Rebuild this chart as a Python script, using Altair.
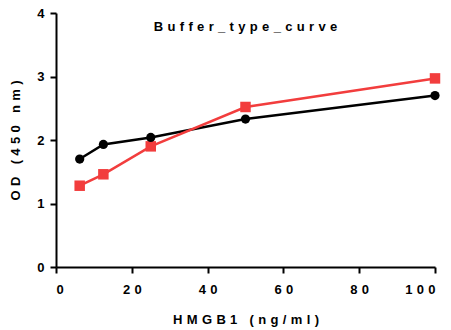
import altair as alt
import pandas as pd

# HMGB1 standard curves measured in two buffers
conc = [6.25, 12.5, 25, 50, 100]
od_black = [1.70, 1.93, 2.04, 2.33, 2.70]
od_red = [1.28, 1.46, 1.90, 2.52, 2.97]

x_ticks = [0, 20, 40, 60, 80, 100]
y_ticks = [0, 1, 2, 3, 4]

GAP = "\u2004"  # wide tracking between glyphs


def tracked(s):
    return GAP.join(list(s))


FONT = "Liberation Sans"
RED = "#F23D3D"
FS = 13

df = pd.DataFrame(
    {
        "conc": conc * 2,
        "od": od_black + od_red,
        "series": ["black"] * len(conc) + ["red"] * len(conc),
    }
)

x_enc = alt.X(
    "conc:Q",
    scale=alt.Scale(domain=[0, 100], nice=False),
    axis=alt.Axis(
        values=x_ticks,
        title=tracked("HMGB1 (ng/ml)"),
        labelExpr=f"join(split(datum.label, ''), '{GAP}')",
        grid=False,
        domainColor="black",
        domainWidth=2,
        tickColor="black",
        tickWidth=2,
        tickSize=6,
        labelFont=FONT,
        labelFontWeight="bold",
        labelFontSize=FS,
        labelColor="black",
        labelPadding=10,
        titleFont=FONT,
        titleFontWeight="bold",
        titleFontSize=FS,
        titleColor="black",
        titlePadding=17,
    ),
)
y_enc = alt.Y(
    "od:Q",
    scale=alt.Scale(domain=[0, 4], nice=False),
    axis=alt.Axis(
        values=y_ticks,
        title=tracked("OD (450 nm)"),
        grid=False,
        domainColor="black",
        domainWidth=2,
        tickColor="black",
        tickWidth=2,
        tickSize=6,
        labelFont=FONT,
        labelFontWeight="bold",
        labelFontSize=FS,
        labelColor="black",
        labelPadding=6,
        titleFont=FONT,
        titleFontWeight="bold",
        titleFontSize=FS,
        titleColor="black",
        titlePadding=14,
    ),
)

black = df[df.series == "black"]
red = df[df.series == "red"]

line_black = alt.Chart(black).mark_line(color="black", strokeWidth=2.5).encode(x=x_enc, y=y_enc)
line_red = alt.Chart(red).mark_line(color=RED, strokeWidth=2.5).encode(x=x_enc, y=y_enc)
pts_red = alt.Chart(red).mark_point(
    shape="square", filled=True, color=RED, opacity=1, size=110
).encode(x=x_enc, y=y_enc)
pts_black = alt.Chart(black).mark_point(
    shape="circle", filled=True, color="black", opacity=1, size=85
).encode(x=x_enc, y=y_enc)

chart = (
    alt.layer(line_black, line_red, pts_red, pts_black)
    .properties(
        width=379,
        height=254,
        title=alt.TitleParams(
            tracked("Buffer_type_curve"),
            font=FONT,
            fontWeight="bold",
            fontSize=FS,
            color="black",
            anchor="middle",
            offset=-27,
        ),
        autosize=alt.AutoSizeParams(type="none"),
        padding={"left": 56, "top": 13, "right": 16, "bottom": 63},
        background="white",
    )
    .configure_view(stroke=None)
)

chart.save("out.html", embed_options={"renderer": "svg", "actions": False})
